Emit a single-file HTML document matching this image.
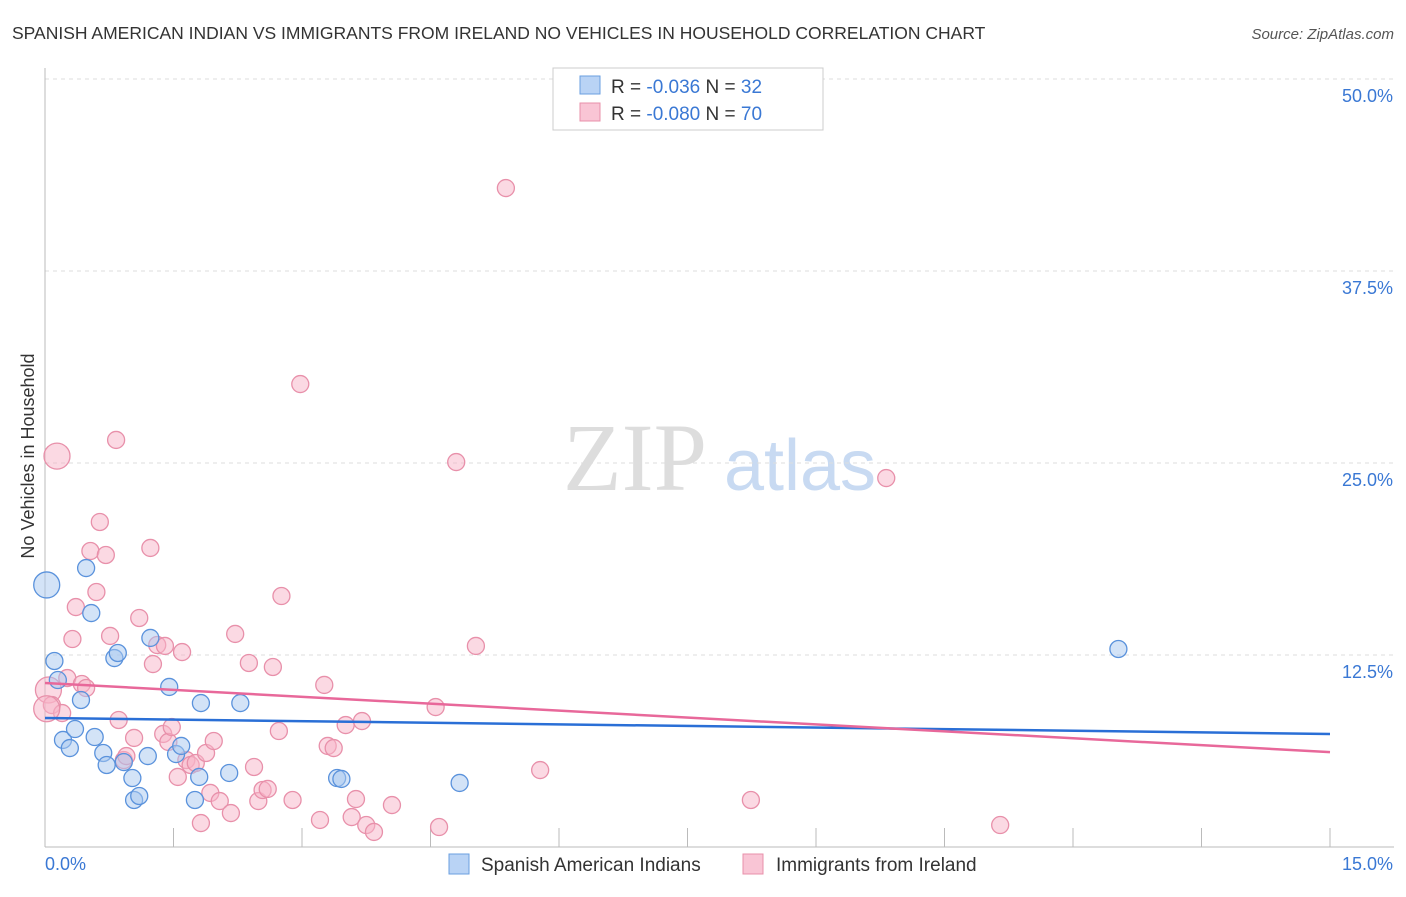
<!DOCTYPE html>
<html><head><meta charset="utf-8"><style>
body{margin:0;background:#fff;font-family:"Liberation Sans",sans-serif;}
</style></head><body>
<svg id="chart" width="1406" height="892" xmlns="http://www.w3.org/2000/svg" font-family="Liberation Sans, sans-serif">
<text x="12" y="39" font-size="17.5" fill="#333">SPANISH AMERICAN INDIAN VS IMMIGRANTS FROM IRELAND NO VEHICLES IN HOUSEHOLD CORRELATION CHART</text>
<text x="1394" y="39" font-size="15" fill="#555" font-style="italic" text-anchor="end">Source: ZipAtlas.com</text>
<text transform="translate(34,456) rotate(-90)" font-size="18" fill="#333" text-anchor="middle">No Vehicles in Household</text>
<g>
<text x="635" y="490" font-size="96" fill="#ddd" font-family="Liberation Serif, serif" text-anchor="middle">ZIP</text>
<text x="800" y="490" font-size="72" fill="#c8daf2" text-anchor="middle">atlas</text>
</g>
<g id="grid"></g><g id="axes"></g><g id="pts"></g><g id="lines"></g>
<g>
<rect x="553" y="68" width="270" height="62" fill="#fff" stroke="#ccc"/>
<rect x="580" y="76" width="20" height="18" fill="#b9d3f5" stroke="#6a9fe0"/>
<rect x="580" y="103" width="20" height="18" fill="#f9c5d5" stroke="#e890aa"/>
<text x="611" y="93" font-size="19" fill="#333">R = <tspan fill="#3a78d4">-0.036</tspan>   N = <tspan fill="#3a78d4">32</tspan></text>
<text x="611" y="120" font-size="19" fill="#333">R = <tspan fill="#3a78d4">-0.080</tspan>   N = <tspan fill="#3a78d4">70</tspan></text>
</g>
<g>
<rect x="449" y="854" width="20" height="20" fill="#b9d3f5" stroke="#6a9fe0"/>
<text x="481" y="871" font-size="19" fill="#333">Spanish American Indians</text>
<rect x="743" y="854" width="20" height="20" fill="#f9c5d5" stroke="#e890aa"/>
<text x="776" y="871" font-size="19" fill="#333">Immigrants from Ireland</text>
</g>
</svg>
<script>
const xTicks=[0,1.5,3,4.5,6,7.5,9,10.5,12,13.5,15];
const yTicks=[12.5,25,37.5,50];
const yTickLabels=["12.5%","25.0%","37.5%","50.0%"];
const blueX=[0.02,0.11,0.15,0.21,0.29,0.35,0.42,0.48,0.54,0.58,0.68,0.72,0.81,0.85,0.92,1.02,1.04,1.10,1.23,1.20,1.45,1.53,1.59,1.75,1.80,1.82,2.15,2.28,3.41,3.46,4.84,12.53];
const blueY=[17.06,12.11,10.87,6.97,6.44,7.68,9.57,18.16,15.23,7.16,6.12,5.34,12.30,12.63,5.53,4.49,3.06,3.32,13.61,5.92,10.42,6.05,6.58,3.06,4.56,9.37,4.82,9.37,4.49,4.43,4.17,12.89];
const blueBig=[0];
const pinkX=[0.14,0.04,0.08,0.20,0.26,0.36,0.32,0.53,0.60,0.64,0.71,0.76,0.83,0.86,0.92,0.95,1.04,1.10,1.23,1.26,1.31,1.38,1.44,1.48,1.55,1.60,1.65,1.70,1.76,1.82,1.88,1.93,1.97,2.04,2.17,2.22,2.38,2.44,2.49,2.54,2.60,2.66,2.73,2.76,2.89,2.98,3.21,3.26,3.30,3.37,3.51,3.58,3.63,3.70,3.75,3.84,4.05,4.56,4.60,4.80,5.03,5.38,5.78,8.24,9.82,11.15,0.43,0.48,1.40,0.02];
const pinkY=[25.45,10.22,9.24,8.72,11.00,15.62,13.54,19.27,16.60,21.16,19.01,13.74,26.50,8.27,5.66,5.92,7.10,14.91,19.47,11.91,13.15,7.36,6.84,7.81,4.56,12.69,5.66,5.34,5.47,1.56,6.12,3.52,6.90,2.99,2.21,13.87,11.98,5.21,2.99,3.71,3.78,11.72,7.55,16.34,3.06,30.14,1.76,10.55,6.58,6.44,7.94,1.95,3.12,8.20,1.43,0.98,2.73,9.11,1.30,25.06,13.09,42.90,5.01,3.06,24.02,1.43,10.61,10.35,13.09,9.0];
const pinkBig=[0,1,69];
const blueTrend=[8.40,7.36];
const pinkTrend=[10.68,6.18];
const NS="http://www.w3.org/2000/svg";
const X=v=>45+v/15*1285, Y=v=>847-v/12.5*192;
function mk(p,t,a){const e=document.createElementNS(NS,t);for(const k in a)e.setAttribute(k,a[k]);document.getElementById(p).appendChild(e);return e;}
yTicks.forEach((t,i)=>{
 const g=mk('grid','line',{x1:45,x2:1394,y1:Y(t),y2:Y(t),stroke:'#ddd','stroke-dasharray':'4,4'});
 
 
 const l=mk('axes','text',{x:1393,y:Y(t)+23,'font-size':18,fill:'#3a78d4','text-anchor':'end'});
 l.textContent=yTickLabels[i];
 
 
});
const ax=mk('axes','line',{x1:45,x2:45,y1:68,y2:847,stroke:'#bbb'});


const bx=mk('axes','line',{x1:45,x2:1394,y1:847,y2:847,stroke:'#bbb'});


xTicks.forEach(t=>{const e=mk('axes','line',{x1:X(t),x2:X(t),y1:828,y2:847,stroke:'#bbb'});
 
 });
const x0=mk('axes','text',{x:45,y:870,'font-size':18,fill:'#3a78d4'});x0.textContent='0.0%';


const x1=mk('axes','text',{x:1393,y:870,'font-size':18,fill:'#3a78d4','text-anchor':'end'});x1.textContent='15.0%';


function pts(xs,ys,big,fill,stroke,name){xs.forEach((v,i)=>{
 const c=mk('pts','circle',{cx:X(v),cy:Y(ys[i]),r:big.includes(i)?13:8.5,fill:fill,'fill-opacity':0.5,stroke:stroke,'stroke-width':1.3});
 
 });}
pts(pinkX,pinkY,pinkBig,'#f7b3c8','#e890aa','ireland-point');
pts(blueX,blueY,blueBig,'#a8c8f0','#5a92dc','spanish-american-indian-point');
const lb=mk('lines','line',{x1:X(0),x2:X(15),y1:Y(blueTrend[0]),y2:Y(blueTrend[1]),stroke:'#2a6fd6','stroke-width':2.5});


const lp=mk('lines','line',{x1:X(0),x2:X(15),y1:Y(pinkTrend[0]),y2:Y(pinkTrend[1]),stroke:'#e8689a','stroke-width':2.5});


</script>
</body></html>
